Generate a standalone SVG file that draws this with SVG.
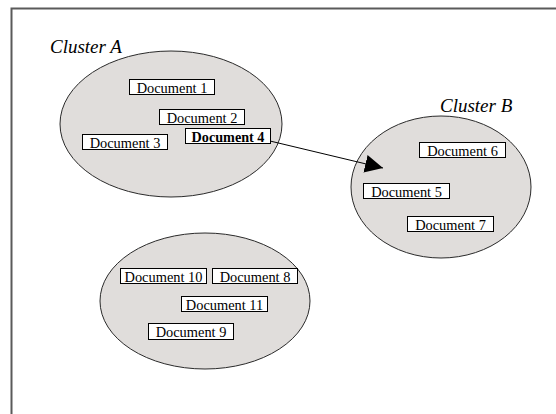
<svg xmlns="http://www.w3.org/2000/svg" width="556" height="414" viewBox="0 0 556 414">
<style>
.frame{stroke:#5a5a5a;stroke-width:2;fill:none}
.cl{fill:#e0dddb;stroke:#2a2a2a;stroke-width:1}
.doc{fill:#fff;stroke:#000;stroke-width:1}
.t{font-family:"Liberation Serif","Times New Roman",serif;font-size:14.4px;fill:#000;text-anchor:middle}
.b{font-weight:bold;font-size:14.2px}
.lab{font-family:"Liberation Serif","Times New Roman",serif;font-size:19px;font-style:italic;fill:#000}
.con{stroke:#000;stroke-width:1;fill:none}
</style>
<defs>
<marker id="ah" viewBox="0 0 18 18" refX="18" refY="9" markerWidth="18" markerHeight="18" markerUnits="userSpaceOnUse" orient="auto">
<path d="M0,0 L18,9 L0,18 z" fill="#000"/>
</marker>
</defs>
<rect width="556" height="414" fill="#fff"/>
<path class="frame" d="M11.5,414 L11.5,8.5 L556,8.5"/>
<g id="clusterA">
<ellipse class="cl" cx="171" cy="124" rx="111" ry="73"/>
<text class="lab" x="50" y="53">Cluster A</text>
</g>
<g id="clusterB">
<ellipse class="cl" cx="441" cy="187" rx="90" ry="71"/>
<text class="lab" x="440" y="112">Cluster B</text>
</g>
<g id="clusterC">
<ellipse class="cl" cx="205" cy="301" rx="105" ry="68"/>
</g>
<g id="doc1"><rect class="doc" x="129.5" y="79.5" width="85" height="15"/><text class="t" x="172" y="93">Document 1</text></g>
<g id="doc2"><rect class="doc" x="159.5" y="109.5" width="85" height="15"/><text class="t" x="202" y="123">Document 2</text></g>
<g id="doc3"><rect class="doc" x="82.5" y="134.5" width="85" height="15"/><text class="t" x="125" y="148">Document 3</text></g>
<g id="doc4"><rect class="doc" x="185.5" y="128.5" width="85" height="15"/><text class="t b" x="228" y="142">Document 4</text></g>
<g id="doc6"><rect class="doc" x="419.5" y="142.5" width="86" height="15"/><text class="t" x="462.5" y="156">Document 6</text></g>
<g id="doc5"><rect class="doc" x="363.5" y="183.5" width="86" height="15"/><text class="t" x="406.5" y="197">Document 5</text></g>
<g id="doc7"><rect class="doc" x="407.5" y="216.5" width="86" height="15"/><text class="t" x="450.5" y="230">Document 7</text></g>
<g id="doc10"><rect class="doc" x="120.5" y="268.5" width="86" height="15"/><text class="t" x="163.5" y="282">Document 10</text></g>
<g id="doc8"><rect class="doc" x="212.5" y="268.5" width="85" height="15"/><text class="t" x="255" y="282">Document 8</text></g>
<g id="doc11"><rect class="doc" x="181.5" y="296.5" width="86" height="15"/><text class="t" x="224.5" y="310">Document 11</text></g>
<g id="doc9"><rect class="doc" x="148.5" y="323.5" width="85" height="16"/><text class="t" x="191" y="337">Document 9</text></g>
<g id="connectors">
<line class="con" x1="270" y1="141" x2="383" y2="168" marker-end="url(#ah)"/>
</g>
</svg>
